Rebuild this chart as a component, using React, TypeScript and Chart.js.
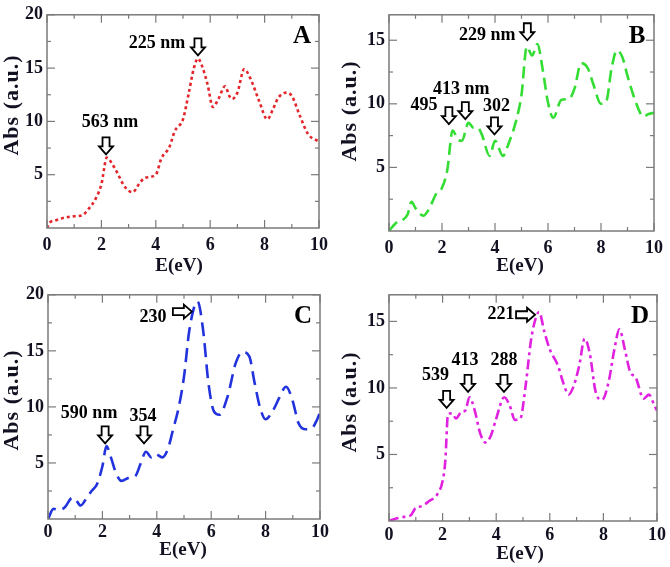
import React, { useEffect, useRef } from "react";
import { Chart, registerables } from "chart.js";

Chart.register(...registerables);

// ---- spectra: photon energy (eV) vs absorbance (a.u.) ----
const energyA = [0, 0.1, 0.3, 0.7, 1.0, 1.3, 1.5, 1.8, 2.0, 2.2, 2.4, 2.6, 2.8, 3.0, 3.15, 3.4, 3.6, 4.0, 4.2, 4.5, 4.7, 5.0, 5.2, 5.4, 5.55, 5.7, 5.9, 6.1, 6.3, 6.55, 6.7, 6.8, 7.0, 7.25, 7.5, 7.8, 8.1, 8.3, 8.5, 8.8, 9.0, 9.3, 9.6, 10];
const absA = [0.0, 0.5, 0.7, 1.0, 1.1, 1.2, 1.7, 2.8, 4.1, 6.6, 6.0, 5.1, 4.1, 3.5, 3.35, 4.2, 4.7, 5.0, 6.5, 7.6, 9.1, 10.2, 12.5, 15.0, 15.9, 15.2, 13.5, 11.35, 12.1, 13.3, 12.4, 12.1, 12.7, 14.9, 13.9, 11.9, 10.2, 11.1, 12.2, 12.7, 12.4, 10.5, 8.8, 8.1];

const energyB = [0, 0.3, 0.5, 0.7, 0.85, 1.0, 1.3, 1.5, 1.8, 2.0, 2.2, 2.4, 2.6, 2.75, 3.0, 3.2, 3.35, 3.5, 3.8, 4.0, 4.3, 4.5, 4.8, 5.0, 5.2, 5.4, 5.6, 5.8, 6.0, 6.2, 6.5, 6.8, 7.0, 7.25, 7.5, 7.7, 8.0, 8.2, 8.4, 8.6, 8.8, 9.0, 9.3, 9.6, 9.8, 10];
const absB = [0.0, 0.7, 0.85, 1.3, 2.3, 1.8, 1.2, 1.7, 3.0, 3.4, 4.8, 7.9, 7.2, 7.1, 8.5, 8.1, 8.1, 7.6, 5.9, 7.1, 5.9, 6.8, 8.7, 10.7, 14.5, 13.8, 14.7, 12.7, 10.1, 8.9, 10.3, 10.4, 11.2, 13.2, 12.8, 11.6, 10.0, 10.2, 12.8, 14.2, 13.7, 12.2, 10.2, 9.0, 9.2, 9.3];

const energyC = [0, 0.2, 0.4, 0.6, 0.9, 1.0, 1.2, 1.4, 1.6, 1.8, 2.0, 2.15, 2.3, 2.5, 2.7, 3.0, 3.2, 3.4, 3.6, 3.8, 3.95, 4.2, 4.4, 4.6, 4.8, 5.0, 5.2, 5.5, 5.7, 5.9, 6.1, 6.3, 6.6, 6.9, 7.15, 7.4, 7.6, 7.8, 8.0, 8.3, 8.5, 8.75, 9.0, 9.2, 9.45, 9.7, 9.9, 10];
const absC = [0.0, 0.9, 0.8, 1.0, 1.9, 1.8, 1.2, 1.8, 2.5, 3.1, 4.7, 6.5, 5.6, 4.1, 3.4, 3.7, 3.8, 4.9, 6.0, 5.5, 5.8, 5.5, 6.2, 8.0, 9.9, 12.7, 16.9, 19.4, 16.9, 12.1, 9.6, 9.3, 10.9, 13.9, 14.9, 14.5, 12.1, 9.9, 8.9, 9.8, 10.8, 11.8, 10.5, 8.6, 8.0, 8.1, 8.9, 9.5];

const energyD = [0, 0.3, 0.5, 0.8, 1.0, 1.2, 1.5, 1.8, 2.0, 2.1, 2.2, 2.35, 2.5, 2.7, 2.85, 3.0, 3.2, 3.4, 3.6, 3.8, 4.0, 4.3, 4.5, 4.7, 4.9, 5.1, 5.3, 5.5, 5.6, 5.8, 6.0, 6.3, 6.5, 6.7, 6.9, 7.1, 7.3, 7.5, 7.7, 7.95, 8.2, 8.4, 8.6, 8.8, 9.0, 9.2, 9.5, 9.7, 9.9, 10];
const absD = [0.0, 0.2, 0.3, 0.4, 1.0, 1.1, 1.5, 2.0, 3.0, 4.5, 8.0, 8.1, 7.7, 8.2, 8.3, 9.3, 8.3, 6.6, 5.9, 6.4, 7.7, 9.3, 8.7, 7.6, 7.7, 10.2, 13.6, 15.4, 15.7, 14.2, 12.9, 11.7, 10.4, 9.5, 10.2, 11.7, 13.7, 12.5, 9.8, 9.1, 10.5, 12.8, 14.4, 12.9, 11.2, 10.8, 9.2, 9.5, 8.7, 8.3];

// ---- axis ranges / ticks ----
const energyTicks = [0, 2, 4, 6, 8, 10];
const energyMinorTicks = [1, 3, 5, 7, 9];
const absMaxA = 20;
const absMaxB = 17;
const absMaxC = 20;
const absMaxD = 17;

// ---- peak markers: label, energy, absorbance at arrow tip, arrow direction, label offset ----
type Marker = { label: string; e: number; v: number; dir: "down" | "right"; dx: number; dy: number };
const markersA: Marker[] = [
  { label: "563 nm", e: 2.17, v: 6.9, dir: "down", dx: 4, dy: -32 },
  { label: "225 nm", e: 5.55, v: 16.2, dir: "down", dx: -41, dy: -12 },
];
const markersB: Marker[] = [
  { label: "495", e: 2.26, v: 8.4, dir: "down", dx: -25, dy: -19 },
  { label: "413 nm", e: 2.88, v: 8.8, dir: "down", dx: -4, dy: -30 },
  { label: "302", e: 3.98, v: 7.6, dir: "down", dx: 2, dy: -28 },
  { label: "229 nm", e: 5.22, v: 15.0, dir: "down", dx: -40, dy: -5 },
];
const markersC: Marker[] = [
  { label: "590 nm", e: 2.1, v: 6.75, dir: "down", dx: -16, dy: -30 },
  { label: "354", e: 3.53, v: 6.75, dir: "down", dx: -1, dy: -27 },
  { label: "230", e: 5.29, v: 18.5, dir: "right", dx: -39, dy: 6 },
];
const markersD: Marker[] = [
  { label: "539", e: 2.15, v: 8.5, dir: "down", dx: -11, dy: -33 },
  { label: "413", e: 2.95, v: 9.7, dir: "down", dx: -3, dy: -32 },
  { label: "288", e: 4.29, v: 9.7, dir: "down", dx: 0, dy: -32 },
  { label: "221", e: 5.45, v: 15.5, dir: "right", dx: -34, dy: 0 },
];

const SERIF = "'Liberation Serif', 'DejaVu Serif', serif";
const FRAME = "#7a7a7a";
const TEXT = "#111122";

type PanelSpec = {
  letter: string;
  energy: number[];
  abs: number[];
  absMax: number;
  color: string;
  dash: number[];
  markers: Marker[];
  box: { left: number; top: number; width: number; height: number };
  area: { left: number; top: number; right: number; bottom: number };
  xLabelPad: number;
  yTitleX: number;
  yTitleY: number;
  xTitleX: number;
  xTitleY: number;
};

function drawArrow(ctx: CanvasRenderingContext2D, x: number, y: number, dir: "down" | "right") {
  const hw = 7, hl = 8, sw = 3.5, len = 17;
  ctx.beginPath();
  if (dir === "down") {
    ctx.moveTo(x, y);
    ctx.lineTo(x - hw, y - hl);
    ctx.lineTo(x - sw, y - hl);
    ctx.lineTo(x - sw, y - len);
    ctx.lineTo(x + sw, y - len);
    ctx.lineTo(x + sw, y - hl);
    ctx.lineTo(x + hw, y - hl);
  } else {
    const l = 19;
    ctx.moveTo(x, y);
    ctx.lineTo(x - hl, y - hw);
    ctx.lineTo(x - hl, y - sw);
    ctx.lineTo(x - l, y - sw);
    ctx.lineTo(x - l, y + sw);
    ctx.lineTo(x - hl, y + sw);
    ctx.lineTo(x - hl, y + hw);
  }
  ctx.closePath();
  ctx.fillStyle = "#ffffff";
  ctx.fill();
  ctx.lineWidth = 1.8;
  ctx.strokeStyle = "#000000";
  ctx.lineJoin = "miter";
  ctx.stroke();
}

function framePlugin(spec: PanelSpec) {
  return {
    id: "frameAndMarks",
    afterDatasetsDraw(chart: any) {
      const ctx: CanvasRenderingContext2D = chart.ctx;
      const { left, top, right, bottom } = chart.chartArea;
      const xs = chart.scales.x;
      const ys = chart.scales.y;
      ctx.save();
      // frame
      ctx.strokeStyle = FRAME;
      ctx.lineWidth = 1.5;
      ctx.strokeRect(left, top, right - left, bottom - top);
      // inward tick marks on all four sides
      const tick = (x1: number, y1: number, x2: number, y2: number) => {
        ctx.beginPath();
        ctx.moveTo(x1, y1);
        ctx.lineTo(x2, y2);
        ctx.stroke();
      };
      ctx.lineWidth = 1.2;
      energyTicks.forEach((e) => {
        const px = xs.getPixelForValue(e);
        tick(px, bottom, px, bottom - 8);
        tick(px, top, px, top + 8);
      });
      energyMinorTicks.forEach((e) => {
        const px = xs.getPixelForValue(e);
        tick(px, bottom, px, bottom - 4);
        tick(px, top, px, top + 4);
      });
      for (let v = 5; v <= spec.absMax; v += 5) {
        const py = ys.getPixelForValue(v);
        tick(left, py, left + 8, py);
        tick(right, py, right - 8, py);
      }
      for (let v = 2.5; v <= spec.absMax; v += 5) {
        const py = ys.getPixelForValue(v);
        tick(left, py, left + 4, py);
        tick(right, py, right - 4, py);
      }
      // peak markers
      ctx.font = `bold 18px ${SERIF}`;
      ctx.textAlign = "center";
      ctx.textBaseline = "middle";
      spec.markers.forEach((m) => {
        const px = xs.getPixelForValue(m.e);
        const py = ys.getPixelForValue(m.v);
        drawArrow(ctx, px, py, m.dir);
        ctx.fillStyle = "#000";
        ctx.fillText(m.label, px + m.dx, py + m.dy);
      });
      // panel letter
      ctx.font = `bold 25px ${SERIF}`;
      ctx.fillStyle = "#000";
      ctx.fillText(spec.letter, right - 17, top + 22);
      // axis titles
      ctx.fillStyle = TEXT;
      ctx.font = `bold 19px ${SERIF}`;
      ctx.fillText("E(eV)", spec.xTitleX, spec.xTitleY);
      ctx.save();
      ctx.translate(spec.yTitleX, spec.yTitleY);
      ctx.rotate(-Math.PI / 2);
      ctx.font = `bold 22px ${SERIF}`;
      (ctx as any).letterSpacing = "1px";
      ctx.fillText("Abs (a.u.)", 0, 0);
      ctx.restore();
      ctx.restore();
    },
  };
}

function Panel({ spec }: { spec: PanelSpec }) {
  const ref = useRef<HTMLCanvasElement | null>(null);
  useEffect(() => {
    if (!ref.current) return;
    const { box, area } = spec;
    const chart = new Chart(ref.current, {
      type: "line",
      data: {
        datasets: [
          {
            data: spec.energy.map((e, i) => ({ x: e, y: spec.abs[i] })),
            borderColor: spec.color,
            borderWidth: 2.6,
            borderDash: spec.dash,
            borderCapStyle: "butt",
            pointRadius: 0,
            tension: 0.35,
            cubicInterpolationMode: "monotone",
            fill: false,
          },
        ],
      },
      options: {
        animation: false,
        responsive: false,
        maintainAspectRatio: false,
        devicePixelRatio: 1,
        layout: { padding: { left: 0, top: area.top, right: box.width - area.right, bottom: 0 } },
        plugins: { legend: { display: false }, tooltip: { enabled: false } },
        scales: {
          x: {
            type: "linear",
            min: 0,
            max: 10,
            grid: { display: false, drawTicks: false },
            border: { display: false },
            ticks: {
              stepSize: 2,
              padding: spec.xLabelPad,
              color: TEXT,
              font: { family: SERIF, size: 18, weight: "bold" },
              maxRotation: 0,
            },
            afterFit: (s: any) => {
              s.height = box.height - area.bottom;
            },
          },
          y: {
            type: "linear",
            min: 0,
            max: spec.absMax,
            grid: { display: false, drawTicks: false },
            border: { display: false },
            ticks: {
              stepSize: 5,
              includeBounds: false,
              padding: 4,
              color: TEXT,
              font: { family: SERIF, size: 18, weight: "bold" },
              callback: (v: any) => (v === 0 ? "" : String(v)),
            },
            afterFit: (s: any) => {
              s.width = area.left;
            },
          },
        },
      },
      plugins: [framePlugin(spec)],
    } as any);
    return () => chart.destroy();
  }, [spec]);
  const { box } = spec;
  return (
    <canvas
      ref={ref}
      width={box.width}
      height={box.height}
      style={{ position: "absolute", left: box.left, top: box.top, width: box.width, height: box.height }}
    />
  );
}

const panels: PanelSpec[] = [
  {
    letter: "A", energy: energyA, abs: absA, absMax: absMaxA, color: "#e3262b", dash: [3, 3], markers: markersA,
    box: { left: 0, top: 0, width: 335, height: 280 },
    area: { left: 47, top: 2, right: 319, bottom: 228 },
    xLabelPad: 7, yTitleX: 12, yTitleY: 105, xTitleX: 179, xTitleY: 266,
  },
  {
    letter: "B", energy: energyB, abs: absB, absMax: absMaxB, color: "#33dd33", dash: [12, 6], markers: markersB,
    box: { left: 335, top: 0, width: 335, height: 280 },
    area: { left: 54, top: 1, right: 328, bottom: 231 },
    xLabelPad: 7, yTitleX: 15, yTitleY: 111, xTitleX: 185, xTitleY: 266,
  },
  {
    letter: "C", energy: energyC, abs: absC, absMax: absMaxC, color: "#2233dd", dash: [14, 7], markers: markersC,
    box: { left: 0, top: 280, width: 335, height: 287 },
    area: { left: 48, top: 14, right: 320, bottom: 239 },
    xLabelPad: 3, yTitleX: 12, yTitleY: 120, xTitleX: 183, xTitleY: 270,
  },
  {
    letter: "D", energy: energyD, abs: absD, absMax: absMaxD, color: "#e022e0", dash: [10, 4, 3, 4], markers: markersD,
    box: { left: 335, top: 280, width: 335, height: 287 },
    area: { left: 54, top: 13, right: 329, bottom: 241 },
    xLabelPad: 4, yTitleX: 15, yTitleY: 122, xTitleX: 185, xTitleY: 274,
  },
];

export default function App() {
  return (
    <div style={{ position: "absolute", left: 0, top: 0, width: 670, height: 567, background: "#ffffff", overflow: "hidden" }}>
      {panels.map((p) => (
        <Panel key={p.letter} spec={p} />
      ))}
    </div>
  );
}
